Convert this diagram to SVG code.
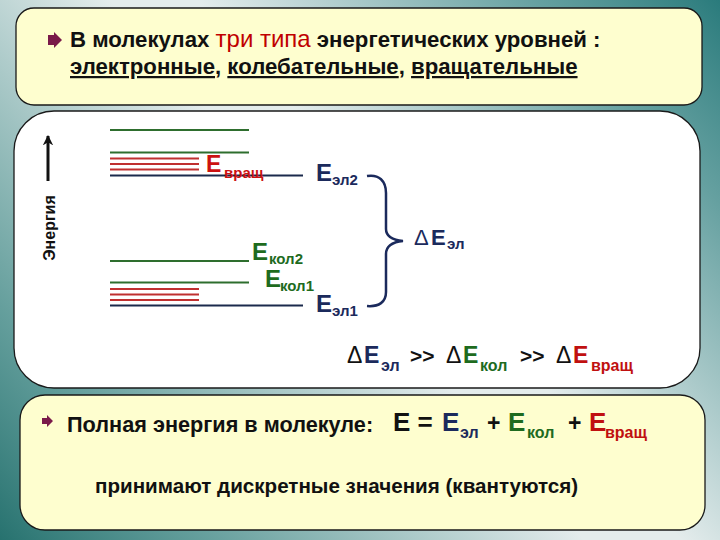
<svg xmlns="http://www.w3.org/2000/svg" width="720" height="540" viewBox="0 0 720 540">
<defs>
<linearGradient id="bgL" gradientUnits="userSpaceOnUse" x1="0" y1="540" x2="330" y2="250">
<stop offset="0" stop-color="#27726f" stop-opacity="1"/>
<stop offset="0.35" stop-color="#3a8582" stop-opacity="0.75"/>
<stop offset="1" stop-color="#3a8582" stop-opacity="0"/>
</linearGradient>
<linearGradient id="bgR" gradientUnits="userSpaceOnUse" x1="720" y1="0" x2="430" y2="260">
<stop offset="0" stop-color="#2a7b7c" stop-opacity="1"/>
<stop offset="0.35" stop-color="#3b8787" stop-opacity="0.75"/>
<stop offset="1" stop-color="#3b8787" stop-opacity="0"/>
</linearGradient>
<marker id="ah" viewBox="0 0 10 10" refX="9" refY="5" markerWidth="4" markerHeight="4" orient="auto" markerUnits="strokeWidth">
<path d="M0,0 L10,5 L0,10 z" fill="#111"/>
</marker>
<marker id="ahUp" viewBox="0 0 10 10" refX="9" refY="5" markerWidth="3.5" markerHeight="3.5" orient="auto" markerUnits="strokeWidth">
<path d="M0,0 L10,5 L0,10 L3,5 z" fill="#111"/>
</marker>
</defs>
<style>
.box{stroke:#1a1a1a;stroke-width:1.3}
.yel{fill:#fefecf}
.t{font-family:"Liberation Sans",Arial,sans-serif;fill:#111}
.b{font-weight:bold}
.nv{fill:#1b2a5c}
.gr{fill:#1e6b1e}
.rd{fill:#cc1111}
.lg{stroke:#2e6e2e;stroke-width:2}
.lr{stroke:#c03030;stroke-width:2}
.ln{stroke:#1b2a4c;stroke-width:2}
.bul{fill:#7a1a4a}
</style>

<rect x="0" y="0" width="720" height="540" fill="#e4ecec"/>
<rect x="0" y="0" width="720" height="540" fill="url(#bgL)"/>
<rect x="0" y="0" width="720" height="540" fill="url(#bgR)"/>

<g id="top-box">
<rect class="box yel" x="16" y="8" width="686" height="97" rx="18"/>
<path class="bul" d="M48,35 L54,35 L54,32 L62,40 L54,48 L54,45 L48,45 z"/>
<text class="t b" x="70" y="47" font-size="22.2">В молекулах <tspan font-weight="normal" font-size="24" fill="#c00000">три типа</tspan> энергетических уровней :</text>
<text class="t b" x="70" y="74" font-size="22.2"><tspan text-decoration="underline">электронные</tspan>, <tspan text-decoration="underline">колебательные</tspan>, <tspan text-decoration="underline">вращательные</tspan></text>
</g>

<g id="middle-box">
<rect class="box" x="14" y="111" width="686" height="277" rx="40" fill="#ffffff"/>
</g>

<g id="energy-axis">
<line x1="48" y1="181" x2="48" y2="136" stroke="#111" stroke-width="3" marker-end="url(#ahUp)"/>
<text class="t b" transform="translate(55,228) rotate(-90)" text-anchor="middle" font-size="16">Энергия</text>
</g>

<g id="levels-upper">
<line class="lg" x1="110" y1="130" x2="249" y2="130"/>
<line class="lg" x1="110" y1="152.5" x2="249" y2="152.5"/>
<line class="lr" x1="110" y1="158.5" x2="199" y2="158.5"/>
<line class="lr" x1="110" y1="164" x2="199" y2="164"/>
<line class="lr" x1="110" y1="169.5" x2="199" y2="169.5"/>
<line class="ln" x1="110" y1="175.5" x2="303" y2="175.5"/>
<text class="t b rd" x="206" y="172" font-size="23">E<tspan x="224" y="178" font-size="15">вращ</tspan></text>
<text class="t b nv" x="316" y="181" font-size="24">E<tspan x="332" y="185" font-size="15">эл2</tspan></text>
</g>

<g id="levels-lower">
<line class="lg" x1="110" y1="261" x2="249" y2="261"/>
<line class="lg" x1="110" y1="282.5" x2="249" y2="282.5"/>
<line class="lr" x1="110" y1="289" x2="199" y2="289"/>
<line class="lr" x1="110" y1="294.5" x2="199" y2="294.5"/>
<line class="lr" x1="110" y1="300" x2="199" y2="300"/>
<line class="ln" x1="110" y1="305.5" x2="303" y2="305.5"/>
<text class="t b gr" x="252" y="260" font-size="24">E<tspan x="269" y="264" font-size="15">кол2</tspan></text>
<text class="t b gr" x="265" y="287" font-size="24">E<tspan x="280" y="291" font-size="15">кол1</tspan></text>
<text class="t b nv" x="316" y="312" font-size="24">E<tspan x="332" y="316" font-size="15">эл1</tspan></text>
</g>

<g id="connectors">
<path d="M367,176 C379,174 386,181 386,193 L386,229 C386,236 393,240 403,241 C393,242 386,246 386,254 L386,292 C386,302 379,307 367,306" fill="none" stroke="#1b2a5c" stroke-width="2.5"/>
<line x1="388" y1="473" x2="446" y2="439" stroke="#111" stroke-width="2.5" marker-end="url(#ah)"/>
<line x1="388" y1="473" x2="520" y2="440" stroke="#111" stroke-width="2.5" marker-end="url(#ah)"/>
<line x1="388" y1="473" x2="597" y2="441" stroke="#111" stroke-width="2.5" marker-end="url(#ah)"/>
</g>

<g id="delta-el">
<text class="t nv" x="414" y="245" font-size="22">Δ<tspan class="b" x="431">E</tspan><tspan class="b" x="447" y="249" font-size="15">эл</tspan></text>
</g>

<g id="comparison">
<text class="t" x="347" y="363" font-size="23">Δ<tspan class="b nv" x="364">E</tspan><tspan class="b nv" x="381" y="371" font-size="16">эл</tspan><tspan class="b" x="410" y="363" font-size="21">&gt;&gt;</tspan><tspan x="446" y="363">Δ</tspan><tspan class="b gr" x="463">E</tspan><tspan class="b gr" x="480" y="371" font-size="16">кол</tspan><tspan class="b" x="520" y="363" font-size="21">&gt;&gt;</tspan><tspan x="556" y="363">Δ</tspan><tspan class="b" x="573" fill="#c01010">E</tspan><tspan class="b" x="591" y="371" font-size="16" fill="#c01010">вращ</tspan></text>
</g>

<g id="bottom-box">
<rect class="box yel" x="20" y="395" width="685" height="135" rx="25"/>
<path class="bul" d="M42,418 L47,418 L47,415 L53,421 L47,427 L47,424 L42,424 z"/>
<text class="t b" x="67" y="432" font-size="21.7">Полная энергия в молекуле:</text>
<text class="t b" x="393" y="431" font-size="26">E = <tspan class="nv" x="442">E</tspan><tspan class="nv" x="460" y="438" font-size="16">эл</tspan><tspan x="487" y="431" font-size="23">+</tspan><tspan class="gr" x="508" y="431">E</tspan><tspan class="gr" x="527" y="438" font-size="16">кол</tspan><tspan x="568" y="431" font-size="23">+</tspan><tspan x="589" y="431" fill="#c01010">E</tspan><tspan x="605" y="438" font-size="16" fill="#c01010">вращ</tspan></text>
<text class="t b" x="95" y="493" font-size="20.6">принимают дискретные значения (квантуются)</text>
</g>
</svg>
